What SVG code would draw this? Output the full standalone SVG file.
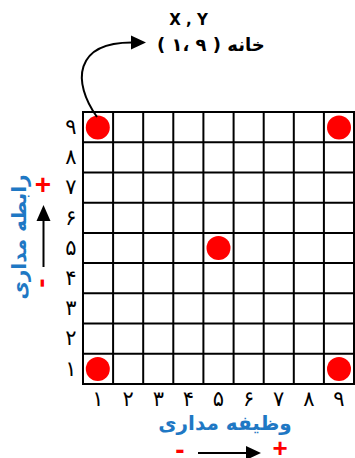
<svg xmlns="http://www.w3.org/2000/svg" width="355" height="458" viewBox="0 0 355 458">
<style>
.grid line{stroke:#000;stroke-width:2}
.dig{font-family:"DejaVu Sans",sans-serif;font-size:21px;fill:#000;text-anchor:middle}
.dot{fill:#FF0000}
.blue{font-family:"DejaVu Sans",sans-serif;font-weight:bold;font-size:20px;fill:#1F78C4;text-anchor:middle}
.red{font-family:"Liberation Sans",sans-serif;font-weight:bold;font-size:28px;fill:#FF0000;text-anchor:middle}
.lbl{font-family:"DejaVu Sans",sans-serif;font-weight:bold;font-size:15px;fill:#000}
.ln{stroke:#000;stroke-width:2;fill:none}
</style>
<rect width="355" height="458" fill="#fff"/>
<g id="grid" class="grid">
<line x1="83" y1="112" x2="83" y2="384"/>
<line x1="113.1" y1="112" x2="113.1" y2="384"/>
<line x1="143.2" y1="112" x2="143.2" y2="384"/>
<line x1="173.3" y1="112" x2="173.3" y2="384"/>
<line x1="203.4" y1="112" x2="203.4" y2="384"/>
<line x1="233.6" y1="112" x2="233.6" y2="384"/>
<line x1="263.7" y1="112" x2="263.7" y2="384"/>
<line x1="293.8" y1="112" x2="293.8" y2="384"/>
<line x1="323.9" y1="112" x2="323.9" y2="384"/>
<line x1="354" y1="112" x2="354" y2="384"/>
<line x1="82" y1="112" x2="355" y2="112"/>
<line x1="82" y1="142.2" x2="355" y2="142.2"/>
<line x1="82" y1="172.4" x2="355" y2="172.4"/>
<line x1="82" y1="202.7" x2="355" y2="202.7"/>
<line x1="82" y1="232.9" x2="355" y2="232.9"/>
<line x1="82" y1="263.1" x2="355" y2="263.1"/>
<line x1="82" y1="293.3" x2="355" y2="293.3"/>
<line x1="82" y1="323.6" x2="355" y2="323.6"/>
<line x1="82" y1="353.8" x2="355" y2="353.8"/>
<line x1="82" y1="384" x2="355" y2="384"/>
</g>
<g id="dots">
<circle class="dot" cx="97.8" cy="127.5" r="12"/>
<circle class="dot" cx="339" cy="127.5" r="12"/>
<circle class="dot" cx="218.5" cy="248" r="12"/>
<circle class="dot" cx="97.8" cy="369" r="12"/>
<circle class="dot" cx="339" cy="369" r="12"/>
</g>
<g id="y-axis-labels">
<text class="dig" x="71" y="134">۹</text>
<text class="dig" x="71" y="164">۸</text>
<text class="dig" x="71" y="194">۷</text>
<text class="dig" x="71" y="224.5">۶</text>
<text class="dig" x="71" y="254.5">۵</text>
<text class="dig" x="71" y="285">۴</text>
<text class="dig" x="71" y="315">۳</text>
<text class="dig" x="71" y="345">۲</text>
<text class="dig" x="71" y="375.5">۱</text>
</g>
<g id="x-axis-labels">
<text class="dig" x="98" y="406">۱</text>
<text class="dig" x="128.2" y="406">۲</text>
<text class="dig" x="158.3" y="406">۳</text>
<text class="dig" x="188.4" y="406">۴</text>
<text class="dig" x="218.5" y="406">۵</text>
<text class="dig" x="248.6" y="406">۶</text>
<text class="dig" x="278.7" y="406">۷</text>
<text class="dig" x="308.9" y="406">۸</text>
<text class="dig" x="339" y="406">۹</text>
</g>
<g id="cell-label">
<text class="lbl" x="188.5" y="25" text-anchor="middle">X , Y</text>
<text class="lbl" x="157" y="51" style="font-size:18px" direction="ltr">( ۱، ۹ ) خانه</text>
</g>
<g id="y-axis-title">
<text class="blue" transform="translate(26,237) rotate(-90)">رابطه مداری</text>
<text class="red" x="43" y="194">+</text>
<text class="red" transform="translate(50,283) rotate(-90)">-</text>
</g>
<g id="x-axis-title">
<text class="blue" x="225" y="430">وظیفه مداری</text>
<text class="red" x="180" y="459">-</text>
<text class="red" x="280" y="457" style="font-size:26px">+</text>
</g>
<g id="connectors">
<path class="ln" d="M97 117 C72 82 74 42 133 42.5"/>
<polygon points="131,35.5 146,42.5 131,49.5" fill="#000"/>
<line class="ln" x1="43.5" y1="267" x2="43.5" y2="219"/>
<polygon points="36.5,221 43.5,205 50.5,221" fill="#000"/>
<line class="ln" x1="198" y1="453" x2="248" y2="453"/>
<polygon points="246,446 261,453 246,460" fill="#000"/>
</g>
</svg>
